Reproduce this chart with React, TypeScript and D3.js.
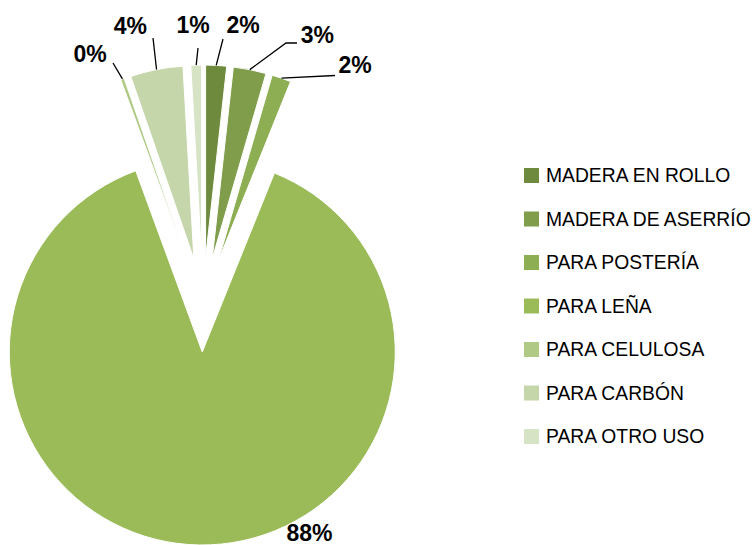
import React from "react";
import * as d3 from "d3";

const categories = [
  "MADERA EN ROLLO",
  "MADERA DE ASERRÍO",
  "PARA POSTERÍA",
  "PARA LEÑA",
  "PARA CELULOSA",
  "PARA CARBÓN",
  "PARA OTRO USO",
];
const values = [1.75, 2.75, 1.6, 88.3, 0.3, 4.4, 0.9];
const colors = ["#6E8B3D", "#7F9D4A", "#8EAE53", "#9BBB59", "#B0CA85", "#C5D6AA", "#D7E3C5"];

// label placement (relative to pie centre), Excel-style manual positions
const labelOffsets: [number, number][] = [
  [40, -280.5],
  [114.3, -270],
  [152, -239.7],
  [106.5, 228],
  [-113, -251],
  [-72.7, -279.5],
  [-10, -280],
];
// leader line points (relative to pie centre); empty = no leader
const leaderPoints: [number, number][][] = [
  [[20, -266]],
  [[83, -262], [94, -262]],
  [[132, -229.5]],
  [],
  [[-90, -242]],
  [[-50, -267]],
  [[-5, -257]],
];

const W = 755;
const H = 545;
const cx = 203;
const cy = 305;
const R = 193;
const explode = 47;

export default function App() {
  const pie = d3
    .pie<number>()
    .sort(null)
    .value((d) => d)
    .startAngle(0)
    .endAngle(2 * Math.PI);
  const arcs = pie(values);
  const arcGen = d3.arc<d3.PieArcDatum<number>>().innerRadius(0).outerRadius(R);
  const total = d3.sum(values);

  const legendY = d3
    .scalePoint<string>()
    .domain(categories)
    .range([175.5, 436.5]);

  return (
    <svg
      width={W}
      height={H}
      style={{ position: "absolute", left: 0, top: 0, display: "block", background: "#fff" }}
    >
      <g transform={`translate(${cx},${cy})`}>
        {arcs.map((a, i) => {
          const mid = (a.startAngle + a.endAngle) / 2;
          const ox = Math.sin(mid) * explode;
          const oy = -Math.cos(mid) * explode;
          return (
            <path
              key={i}
              d={arcGen(a) || ""}
              transform={`translate(${ox},${oy})`}
              fill={colors[i]}
              stroke="#fff"
              strokeWidth={1}
            />
          );
        })}
        {arcs.map((a, i) => {
          const mid = (a.startAngle + a.endAngle) / 2;
          const ax = Math.sin(mid) * (explode + R);
          const ay = -Math.cos(mid) * (explode + R);
          const pts = leaderPoints[i];
          if (!pts.length) return null;
          const line = d3.line()([[ax, ay], ...pts]);
          return <path key={"l" + i} d={line || ""} fill="none" stroke="#000" strokeWidth={1.3} />;
        })}
        {arcs.map((a, i) => {
          const [lx, ly] = labelOffsets[i];
          return (
            <text
              key={"t" + i}
              x={lx}
              y={ly}
              dy="0.35em"
              textAnchor="middle"
              fontFamily="'Liberation Sans', Arial, sans-serif"
              fontWeight="bold"
              fontSize={23}
              fill="#000"
            >
              {Math.round((values[i] / total) * 100) + "%"}
            </text>
          );
        })}
      </g>
      <g>
        {categories.map((c, i) => {
          const y = legendY(c) as number;
          return (
            <g key={c}>
              <rect x={524} y={y - 7.5} width={15} height={15} fill={colors[i]} />
              <text
                x={546}
                y={y}
                dy="0.36em"
                fontFamily="'Liberation Sans', Arial, sans-serif"
                fontSize={19.3}
                fill="#000"
              >
                {c}
              </text>
            </g>
          );
        })}
      </g>
    </svg>
  );
}
